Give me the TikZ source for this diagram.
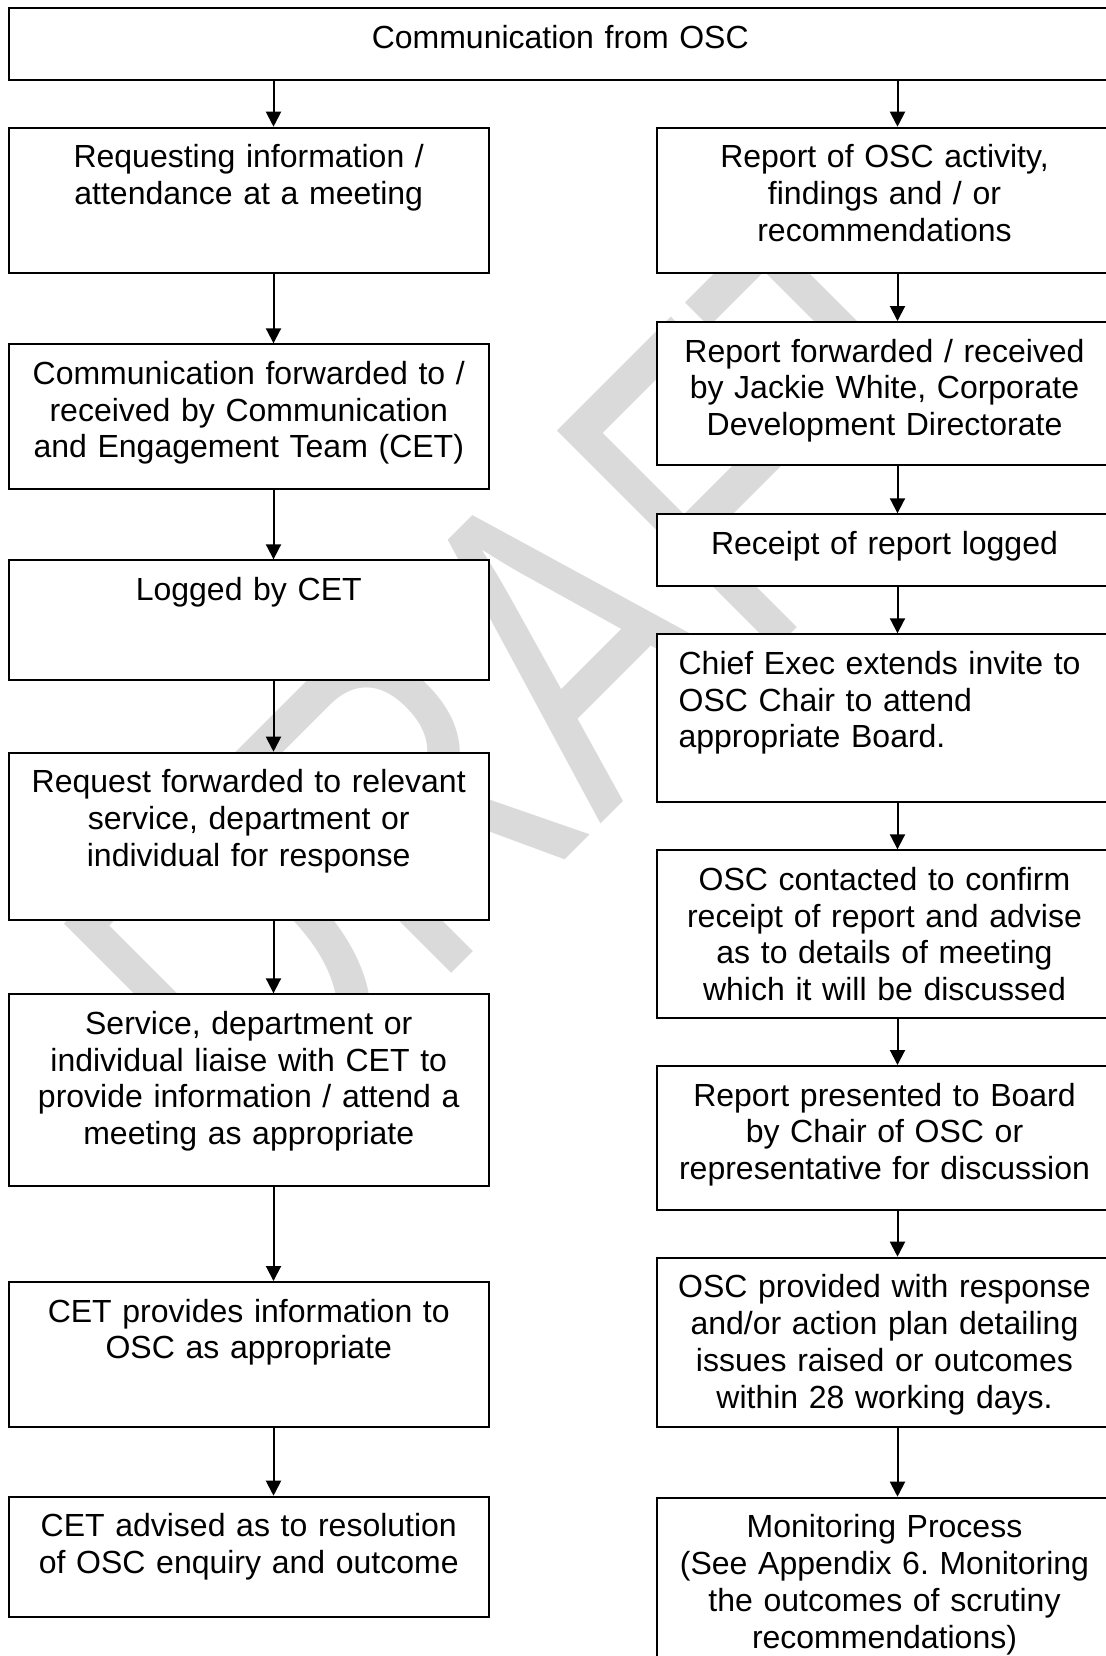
\documentclass[tikz,border=0pt]{standalone}
\usepackage{fontspec}
\setmainfont{Liberation Sans}
\usepackage{tikz}
\usetikzlibrary{arrows.meta}
\definecolor{znak}{RGB}{218,218,218}
\frenchspacing

\begin{document}
\begin{tikzpicture}[x=0.5pt, y=-0.5pt,
    stagebox/.style={draw, fill=white, line width=1pt, anchor=north,
      inner xsep=1.25pt, inner ysep=0pt, text height=20pt, align=center,
      font=\fontsize{16}{18.4}\selectfont},
    leftbox/.style={stagebox, text width=237.75pt},
    rightbox/.style={stagebox, text width=225pt},
    flowline/.style={line width=1pt, -{Triangle[length=7.5pt, width=7.5pt]}}]
    \useasboundingbox (0, 0) rectangle (1106, 1656);
    \clip (0, 0) rectangle (1106, 1656);

    % Watermark
    \node[text=znak, font=\fontsize{165}{170}\selectfont, anchor=base,
      rotate=45, yscale=1.36, inner sep=0pt] (wm) at (652.5, 772.5) {DRAFT};



    % Top
    \node[stagebox, text width=549.25pt, text depth=16pt] (top) at (560.25, 7.3)
      {Communication from OSC};

    \coordinate (lx) at (273.5, 0);

    \coordinate (rx) at (897.5, 0);



    % Left column
    \node[leftbox, text depth=52.5pt] (L1) at (248.75, 126.7)
      {Requesting information /\\attendance at a meeting};

    \node[leftbox, text depth=52.2pt] (L2) at (248.75, 343.3)
      {Communication forwarded to /\\received by Communication\\and Engagement Team (CET)};

    \node[leftbox, text depth=40pt] (L3) at (248.75, 559.3)
      {Logged by CET};

    \node[leftbox, text depth=63.8pt] (L4) at (248.75, 751.7)
      {Request forwarded to relevant\\service, department or\\individual for response};

    \node[leftbox, text depth=75.85pt] (L5) at (248.75, 993.3)
      {Service, department or\\individual liaise with CET to\\provide information / attend a\\meeting as appropriate};

    \node[leftbox, text depth=52.35pt] (L6) at (248.75, 1281)
      {CET provides information to\\OSC as appropriate};

    \node[leftbox, text depth=40.15pt] (L7) at (248.75, 1495.7)
      {CET advised as to resolution\\of OSC enquiry and outcome};



    % Right column
    \node[rightbox, text depth=52.5pt] (R1) at (884.5, 126.7)
      {Report of OSC activity,\\findings and / or\\recommendations};

    \node[rightbox, text depth=51.65pt] (R2) at (884.5, 321)
      {Report forwarded / received\\by Jackie White, Corporate\\Development Directorate};

    \node[rightbox, text depth=15.85pt] (R3) at (884.5, 513.3)
      {Receipt of report logged};

    \node[rightbox, text depth=63.85pt, align=left, inner xsep=10.8pt,
      text width=205.9pt] (R4) at (884.5, 633.3)
      {Chief Exec extends invite to\\OSC Chair to attend\\appropriate Board.};

    \node[rightbox, text depth=64pt] (R5) at (884.5, 849.3)
      {OSC contacted to confirm\\receipt of report and advise\\as to details of meeting\\which it will be discussed};

    \node[rightbox, text depth=52.15pt] (R6) at (884.5, 1065)
      {Report presented to Board\\by Chair of OSC or\\representative for discussion};

    \node[rightbox, text depth=64.5pt] (R7) at (884.5, 1256.7)
      {OSC provided with response\\and/or action plan detailing\\issues raised or outcomes\\within 28 working days.};

    \node[rightbox, text depth=70pt] (R8) at (884.5, 1496.7)
      {Monitoring Process\\(See Appendix 6. Monitoring\\the outcomes of scrutiny\\recommendations)};



    % Arrows
    \draw[flowline] (top.south -| lx) -- (L1.north -| lx);

    \draw[flowline] (L1.south -| lx) -- (L2.north -| lx);

    \draw[flowline] (L2.south -| lx) -- (L3.north -| lx);

    \draw[flowline] (L3.south -| lx) -- (L4.north -| lx);

    \draw[flowline] (L4.south -| lx) -- (L5.north -| lx);

    \draw[flowline] (L5.south -| lx) -- (L6.north -| lx);

    \draw[flowline] (L6.south -| lx) -- (L7.north -| lx);

    \draw[flowline] (top.south -| rx) -- (R1.north -| rx);

    \draw[flowline] (R1.south -| rx) -- (R2.north -| rx);

    \draw[flowline] (R2.south -| rx) -- (R3.north -| rx);

    \draw[flowline] (R3.south -| rx) -- (R4.north -| rx);

    \draw[flowline] (R4.south -| rx) -- (R5.north -| rx);

    \draw[flowline] (R5.south -| rx) -- (R6.north -| rx);

    \draw[flowline] (R6.south -| rx) -- (R7.north -| rx);

    \draw[flowline] (R7.south -| rx) -- (R8.north -| rx);
  \end{tikzpicture}
\end{document}
